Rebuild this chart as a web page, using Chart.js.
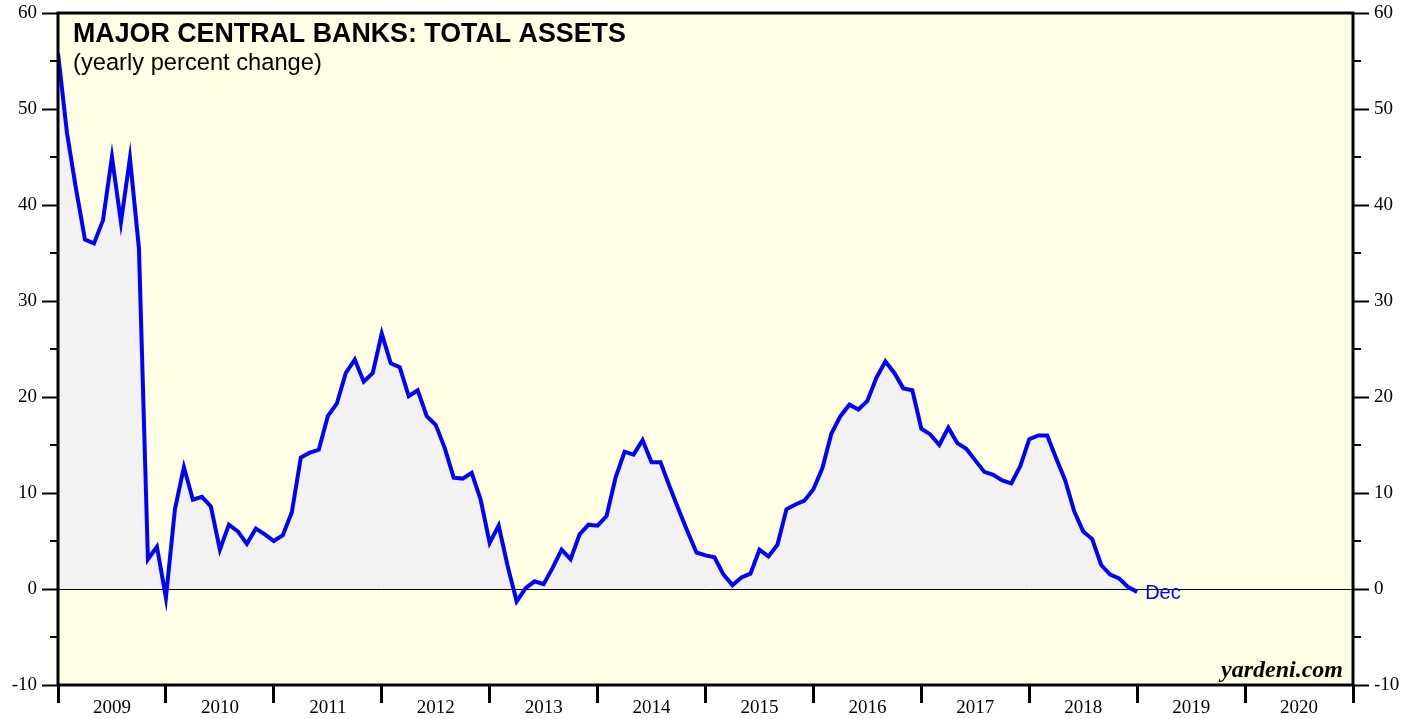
<!DOCTYPE html>
<html>
<head>
<meta charset="utf-8">
<script src="https://cdn.jsdelivr.net/npm/chart.js@4.4.1/dist/chart.umd.min.js"></script>
<style>
  html, body { margin: 0; padding: 0; background: #fff; }
  #wrap { width: 1419px; height: 719px; position: relative; }
</style>
</head>
<body>
<div id="wrap"><canvas id="assetsChart"></canvas></div>
<script>
// monthly yoy % change, Dec 2008 .. Dec 2018
const assetsYoY = [
  55.8, 47.5, 41.7, 36.4, 36.0, 38.4, 45.0, 38.2, 44.9, 35.5, 3.1, 4.4,
  -0.9, 8.3, 12.7, 9.3, 9.6, 8.6, 4.1, 6.7, 6.0, 4.7, 6.3, 5.7,
  5.0, 5.6, 8.0, 13.7, 14.2, 14.5, 18.0, 19.3, 22.5, 23.9, 21.6, 22.5,
  26.6, 23.5, 23.1, 20.1, 20.7, 18.0, 17.1, 14.7, 11.6, 11.5, 12.1, 9.3,
  4.8, 6.6, 2.4, -1.3, 0.1, 0.8, 0.5, 2.2, 4.1, 3.1, 5.7, 6.7,
  6.6, 7.6, 11.6, 14.3, 14.0, 15.5, 13.2, 13.2, 10.7, 8.3, 6.0, 3.8,
  3.5, 3.3, 1.5, 0.4, 1.2, 1.6, 4.1, 3.4, 4.6, 8.3, 8.8, 9.2,
  10.4, 12.6, 16.2, 18.0, 19.2, 18.7, 19.6, 22.0, 23.7, 22.5, 20.9, 20.7,
  16.7, 16.1, 15.0, 16.8, 15.2, 14.6, 13.4, 12.2, 11.9, 11.3, 11.0, 12.8,
  15.6, 16.0, 16.0, 13.6, 11.3, 8.1, 6.0, 5.2, 2.5, 1.5, 1.1, 0.2,
  -0.3
];
const yearLabels = ['2009', '2010', '2011', '2012', '2013', '2014', '2015', '2016', '2017', '2018', '2019', '2020'];
const yMinorTicks = [-5, 5, 15, 25, 35, 45, 55];
const lastLabel = 'Dec';

const points = assetsYoY.map((v, i) => ({ x: i, y: v }));

const serif = '"Liberation Serif", "DejaVu Serif", serif';
const sans = '"Liberation Sans", Arial, sans-serif';

const framePlugin = {
    id: 'framePlugin',
    beforeDraw(chart) {
        const { ctx, chartArea: a } = chart;
        ctx.save();
        ctx.fillStyle = '#ffffe6';
        ctx.fillRect(a.left, a.top, a.width, a.height);
        ctx.restore();
    },
    beforeDatasetsDraw(chart) {
        // zero line sits between the fill and the line
        const { ctx, chartArea: a, scales } = chart;
        const y0 = Math.round(scales.y.getPixelForValue(0)) + 0.5;
        ctx.save();
        ctx.strokeStyle = '#000';
        ctx.lineWidth = 1;
        ctx.beginPath();
        ctx.moveTo(a.left, y0);
        ctx.lineTo(a.right, y0);
        ctx.stroke();
        ctx.restore();
    },
    afterDraw(chart) {
        const { ctx, chartArea: a, scales } = chart;
        ctx.save();

        // minor ticks on both sides
        ctx.strokeStyle = '#000';
        ctx.lineWidth = 2;
        yMinorTicks.forEach(v => {
            const y = scales.y.getPixelForValue(v);
            ctx.beginPath();
            ctx.moveTo(a.left - 8, y);
            ctx.lineTo(a.left, y);
            ctx.moveTo(a.right, y);
            ctx.lineTo(a.right + 8, y);
            ctx.stroke();
        });

        // frame
        ctx.lineWidth = 3;
        ctx.strokeRect(a.left, a.top, a.width, a.height);

        // titles
        ctx.fillStyle = '#000';
        ctx.textAlign = 'left';
        ctx.textBaseline = 'alphabetic';
        ctx.font = 'bold 26.8px ' + sans;
        ctx.fillText('MAJOR CENTRAL BANKS: TOTAL ASSETS', a.left + 15, 42);
        ctx.font = '23.7px ' + sans;
        ctx.fillText('(yearly percent change)', a.left + 15, 70);

        // end label
        const last = assetsYoY.length - 1;
        ctx.fillStyle = '#0000ff';
        ctx.font = '20px ' + sans;
        ctx.textBaseline = 'middle';
        ctx.fillText(lastLabel, scales.x.getPixelForValue(last) + 8, scales.y.getPixelForValue(assetsYoY[last]) + 2);

        // source
        ctx.fillStyle = '#000';
        ctx.textAlign = 'right';
        ctx.textBaseline = 'alphabetic';
        ctx.font = 'italic bold 24px ' + serif;
        ctx.fillText('yardeni.com', a.right - 10, a.bottom - 8);

        ctx.restore();
    }
};

const yAxis = (position, width) => ({
    type: 'linear',
    position,
    min: -10,
    max: 60,
    afterFit(scale) {
        scale.width = width;
        scale.paddingTop = 0;
        scale.paddingBottom = 0;
    },
    ticks: {
        stepSize: 10,
        color: '#000',
        font: { family: serif, size: 19 },
        padding: 5
    },
    grid: {
        drawOnChartArea: false,
        tickLength: 16,
        tickWidth: 2,
        tickColor: '#000'
    },
    border: { display: false }
});

const ctx = document.getElementById('assetsChart').getContext('2d');
const chart = new Chart(ctx, {
    type: 'line',
    data: {
        datasets: [{
            data: points,
            borderColor: '#0000ff',
            borderWidth: 4,
            backgroundColor: '#f2f2f2',
            fill: 'origin',
            pointRadius: 0,
            tension: 0,
            yAxisID: 'y'
        }]
    },
    options: {
        responsive: true,
        maintainAspectRatio: false,
        animation: false,
        layout: { padding: { top: 13 } },
        plugins: {
            legend: { display: false },
            tooltip: { enabled: false },
            filler: { drawTime: 'beforeDatasetsDraw' }
        },
        scales: {
            x: {
                type: 'linear',
                min: 0,
                max: yearLabels.length * 12,
                afterBuildTicks(scale) {
                    const t = [];
                    for (let v = 0; v <= yearLabels.length * 12; v += 6) t.push({ value: v });
                    scale.ticks = t;
                },
                afterFit(scale) {
                    scale.height = 34;
                    scale.paddingLeft = 0;
                    scale.paddingRight = 0;
                },
                ticks: {
                    autoSkip: false,
                    maxRotation: 0,
                    color: '#000',
                    font: { family: serif, size: 19 },
                    padding: -6,
                    callback: v => (v % 12 === 6 ? yearLabels[(v - 6) / 12] : '')
                },
                grid: {
                    drawOnChartArea: false,
                    tickLength: 18,
                    tickWidth: 3,
                    tickColor: c => (c.tick && c.tick.value % 12 === 0 ? '#000' : 'rgba(0,0,0,0)')
                },
                border: { display: false }
            },
            y: yAxis('left', 58),
            y2: yAxis('right', 66)
        }
    },
    plugins: [framePlugin]
});
</script>
</body>
</html>
